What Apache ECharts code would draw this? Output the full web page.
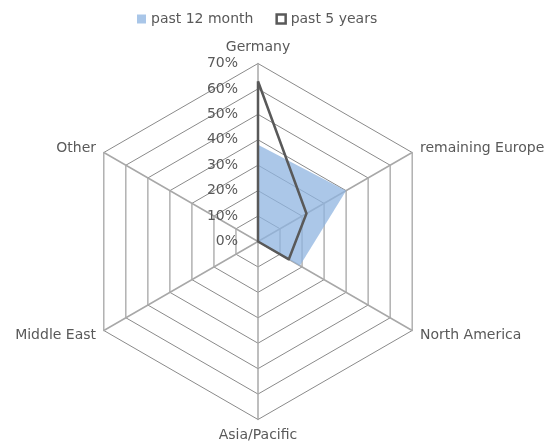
<!DOCTYPE html>
<html>
<head>
<meta charset="utf-8">
<script src="https://cdn.jsdelivr.net/npm/echarts@6/dist/echarts.min.js"></script>
<style>html,body{margin:0;padding:0;background:#fff}#c{width:547px;height:445px}</style>
</head>
<body>
<div id="c"></div>
<script>
// Categories listed in the order ECharts draws them (counter-clockwise from the top)
const categories = ['Germany', 'Other', 'Middle East', 'Asia/Pacific', 'North America', 'remaining Europe'];
const past12Month = [38, 0, 0, 0, 19, 40];
const past5Years  = [63, 0, 0, 0, 14, 22];
const seriesNames = ['past 12 month', 'past 5 years'];
const axisMax = 70;

const FONT = 'DejaVu Sans';
const TXT = '#595959';

const chart = echarts.init(document.getElementById('c'), null, {renderer: 'canvas'});
chart.setOption({
  animation: false,
  legend: {
    left: 132, top: 7,
    itemWidth: 9, itemHeight: 9, itemGap: 22,
    textStyle: {color: TXT, fontSize: 14, fontFamily: FONT},
    data: [
      {name: seriesNames[0], icon: 'rect', itemStyle: {color: '#a9c6e8', borderWidth: 0}},
      {name: seriesNames[1], icon: 'rect', itemStyle: {color: '#ffffff', borderColor: '#595959', borderWidth: 2.5}}
    ]
  },
  radar: {
    center: [258, 241.5],
    radius: 178,
    startAngle: 90,
    splitNumber: 7,
    shape: 'polygon',
    nameGap: 9,
    axisName: {color: TXT, fontSize: 14, fontFamily: FONT},
    axisLine: {lineStyle: {color: '#a8a8a8', width: 1.5}},
    splitLine: {lineStyle: {color: '#8a8a8a', width: 1}},
    splitArea: {show: false},
    axisTick: {show: false},
    axisLabel: {show: false},
    indicator: categories.map((n, i) => {
      const o = {name: n, min: 0, max: axisMax};
      if (i === 0) o.axisLabel = {show: true, formatter: '{value}%', color: TXT, fontSize: 14, fontFamily: FONT, margin: 20};
      return o;
    })
  },
  series: [{
    type: 'radar',
    symbol: 'none',
    data: [
      {name: seriesNames[0], value: past12Month,
       itemStyle: {color: '#a9c6e8'},
       lineStyle: {width: 0, color: '#a9c6e8'},
       areaStyle: {color: '#8fb4e0', opacity: 0.75}},
      {name: seriesNames[1], value: past5Years,
       itemStyle: {color: '#595959'},
       lineStyle: {width: 2.5, color: '#595959'}}
    ]
  }]
});
</script>
</body>
</html>
